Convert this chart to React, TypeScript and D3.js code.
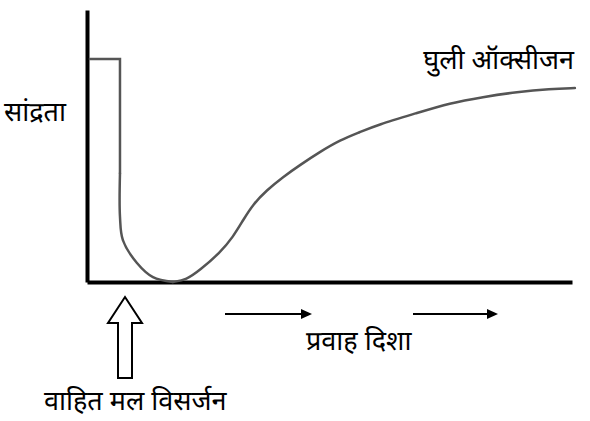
import React, { useEffect, useRef } from 'react';
import * as d3 from 'd3';

// distance downstream (0-100) and dissolved oxygen concentration (0-100)
const stepDistance = [0.6, 6.8, 6.8];
const stepConc = [82, 82, 40];

// sag after discharge
const fallDistance = [6.8, 6.8, 7.4, 10.3, 13.6, 17.7];
const fallConc = [40, 24, 15.4, 7, 1.8, 0];

// recovery downstream
const riseDistance = [17.7, 20.5, 23.3, 27.4, 30.1, 32.2, 34.2, 37.1, 40.4, 43.9, 48.0, 52.2, 56.3, 59.8, 68.0, 74.8, 81.6, 88.7, 95.5, 100.6];
const riseConc = [0, 0.8, 4.4, 10.7, 16.5, 22.8, 28.5, 33.8, 38.6, 43.0, 47.8, 52.2, 55.1, 57.7, 62.1, 65.8, 68.0, 69.9, 71.0, 71.3];

const yLabel = 'सांद्रता';
const seriesLabel = 'घुली ऑक्सीजन';
const flowLabel = 'प्रवाह दिशा';
const sourceLabel = 'वाहित मल विसर्जन';

const W = 590;
const H = 421;
const FONT = '"Noto Sans Devanagari", "Noto Sans", sans-serif';

export default function App() {
  const ref = useRef<SVGSVGElement>(null);

  useEffect(() => {
    const svg = d3.select(ref.current);
    svg.selectAll('*').remove();

    const x = d3.scaleLinear().domain([0, 100]).range([87, 572]);
    const y = d3.scaleLinear().domain([0, 100]).range([282, 10]);

    //axes, no ticks
    svg.append('g')
      .attr('transform', `translate(0, ${y(0)})`)
      .call(d3.axisBottom(x).ticks(0).tickSizeOuter(0))
      .select('.domain')
      .attr('stroke', '#000')
      .attr('stroke-width', 4);

    svg.append('g')
      .attr('transform', `translate(${x(0)}, 0)`)
      .call(d3.axisLeft(y).ticks(0).tickSizeOuter(0))
      .select('.domain')
      .attr('stroke', '#000')
      .attr('stroke-width', 4);

    //oxygen curve
    const lineOf = (xs: number[], c: d3.CurveFactory) => d3.line<number>()
      .x((d, i) => x(xs[i]))
      .y((d) => y(d))
      .curve(c);

    const parts: [number[], number[], d3.CurveFactory][] = [
      [stepDistance, stepConc, d3.curveLinear],
      [fallDistance, fallConc, d3.curveCatmullRom.alpha(0.5)],
      [riseDistance, riseConc, d3.curveBasis],
    ];
    parts.forEach(([xs, ys, c]) => {
      svg.append('path')
        .attr('d', lineOf(xs, c)(ys))
        .attr('fill', 'none')
        .attr('stroke', '#555')
        .attr('stroke-width', 2.5)
        .attr('stroke-linecap', 'round');
    });

    //labels
    const txt = (s: string, tx: number, ty: number, anchor = 'start') =>
      svg.append('text')
        .attr('x', tx)
        .attr('y', ty)
        .attr('text-anchor', anchor)
        .attr('font-family', FONT)
        .attr('font-size', 27)
        .attr('fill', '#000')
        .text(s);

    txt(yLabel, 4, 121);
    txt(seriesLabel, 574, 69, 'end');
    txt(flowLabel, 306, 350);
    txt(sourceLabel, 44, 410);

    //discharge arrow (hollow)
    const ax = 125;
    const arrow = d3.path();
    arrow.moveTo(ax, 297);
    arrow.lineTo(ax + 17, 323);
    arrow.lineTo(ax + 7, 323);
    arrow.lineTo(ax + 7, 378);
    arrow.lineTo(ax - 7, 378);
    arrow.lineTo(ax - 7, 323);
    arrow.lineTo(ax - 17, 323);
    arrow.closePath();
    svg.append('path')
      .attr('d', arrow.toString())
      .attr('fill', '#fff')
      .attr('stroke', '#000')
      .attr('stroke-width', 2);

    //flow arrows
    const flows = [[225, 312], [413, 498]];
    flows.forEach(([x1, x2]) => {
      svg.append('line')
        .attr('x1', x1).attr('x2', x2 - 8)
        .attr('y1', 314).attr('y2', 314)
        .attr('stroke', '#000')
        .attr('stroke-width', 2);
      svg.append('path')
        .attr('d', `M${x2},314L${x2 - 11},309L${x2 - 11},319Z`)
        .attr('fill', '#000');
    });
  }, []);

  return (
    <svg ref={ref} width={W} height={H}
      style={{ position: 'absolute', left: 0, top: 0, background: '#fff' }} />
  );
}
